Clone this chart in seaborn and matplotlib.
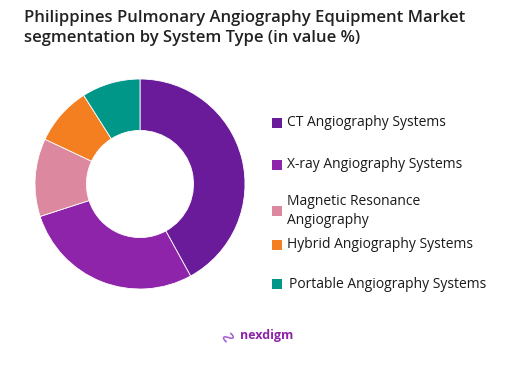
import matplotlib
matplotlib.use("Agg")
import matplotlib.pyplot as plt
import seaborn as sns
from matplotlib.patches import Rectangle

categories = ["CT Angiography Systems", "X-ray Angiography Systems",
              "Magnetic Resonance\nAngiography", "Hybrid Angiography Systems",
              "Portable Angiography Systems"]
values = [42, 28, 12, 9, 9]
colors = ["#6A1B9A", "#8E24AA", "#DC889F", "#F47F20", "#009688"]

sns.set_theme(style="white")
plt.rcParams['font.family'] = ['Open Sans', 'DejaVu Sans']

fig = plt.figure(figsize=(5.29, 3.71), dpi=100)
W, H = 529, 371
cx, cy, r = 140, 184, 105
ax = fig.add_axes([(cx - r) / W, (H - cy - r) / H, 2 * r / W, 2 * r / H])
ax.pie(values, colors=sns.color_palette(colors), startangle=90, counterclock=False,
       radius=1.0, wedgeprops=dict(width=0.49, edgecolor="white", linewidth=0.6))
ax.set_xlim(-1, 1)
ax.set_ylim(-1, 1)
ax.set_aspect("equal")
ax.axis("off")

fig.text(24 / W, 1 - 10 / H,
         "Philippines Pulmonary Angiography Equipment Market\nsegmentation by System Type (in value %)",
         ha="left", va="top", fontsize=12, fontweight="semibold", color="#222222",
         linespacing=1.35)

leg_y = [123, 165, 211, 245, 284]
leg_x = [287, 287, 287, 287, 289]
for lab, col, y, x in zip(categories, colors, leg_y, leg_x):
    fig.patches.append(Rectangle((272 / W, 1 - (y + 5) / H), 10 / W, 10 / H,
                                 transform=fig.transFigure, facecolor=col, edgecolor="none"))
    fig.text(x / W, 1 - y / H, lab, ha="left", va="center", fontsize=10,
             color="#1a1a1a", linespacing=1.3)

fig.text(217 / W, 1 - 336 / H, "\u223f", ha="left", va="center", fontsize=13,
         color="#9C4DCC", rotation=60)
fig.text(240 / W, 1 - 335 / H, "nexdigm", ha="left", va="center", fontsize=9,
         fontweight="bold", color="#8E24AA")

fig.savefig("out.png", dpi=100)
